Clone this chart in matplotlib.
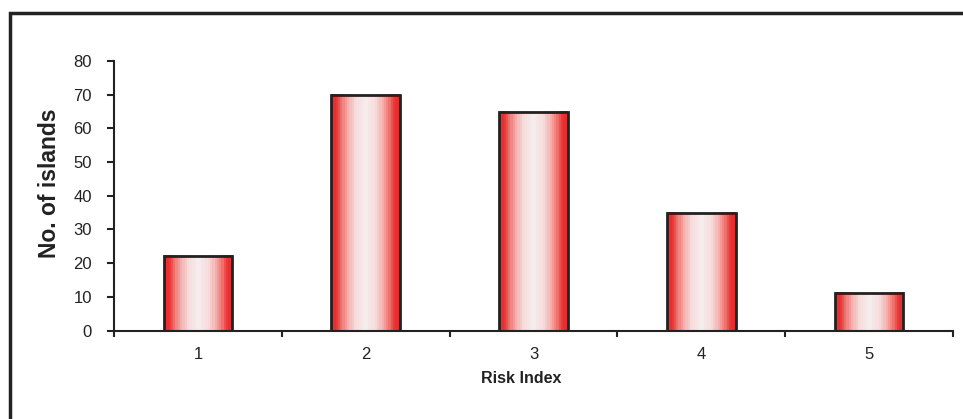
import numpy as np
import matplotlib
matplotlib.use("Agg")
import matplotlib.pyplot as plt
from matplotlib.colors import LinearSegmentedColormap
from matplotlib.patches import Rectangle

categories = ["1", "2", "3", "4", "5"]
values = [22, 70, 65, 35, 11]
yticks = [0, 10, 20, 30, 40, 50, 60, 70, 80]

plt.rcParams['font.family'] = ['Liberation Sans', 'DejaVu Sans']

fig = plt.figure(figsize=(9.63, 4.19), dpi=100)
ax = fig.add_axes([114/963, 1-330.5/419, (953-114)/963, (330.5-61)/419])

x = np.arange(len(categories))
width = 0.41

cmap = LinearSegmentedColormap.from_list(
    "redwhite",
    [(0.0, "#e8262a"), (0.15, "#ec3a3a"), (0.3, "#f07a76"), (0.5, "#f4b4b2"),
     (0.7, "#f6dcdb"), (1.0, "#f6eeee")])
n = 30
prof = 1 - np.abs(np.linspace(-1, 1, n))
grad = np.vstack([prof, prof])

bars = ax.bar(x, values, width=width, fill=False, edgecolor="#222222", linewidth=2, zorder=3)
for b in bars:
    x0, y0 = b.get_x(), b.get_y()
    w, h = b.get_width(), b.get_height()
    ax.imshow(grad, cmap=cmap, extent=(x0, x0 + w, y0, y0 + h), aspect="auto",
              interpolation="nearest", zorder=2, vmin=0, vmax=1)

ax.set_xlim(-0.5, len(categories) - 0.5)
ax.set_ylim(0, 80)
ax.set_yticks(yticks)
ax.set_xticks(x)
ax.set_xticklabels(categories)
ax.set_xticks(np.arange(len(categories) + 1) - 0.5, minor=True)

for s in ["top", "right"]:
    ax.spines[s].set_visible(False)
for s in ["left", "bottom"]:
    ax.spines[s].set_color("#222222")
    ax.spines[s].set_linewidth(1.5)

ax.tick_params(axis="x", which="major", length=0, pad=12, labelsize=12, colors="#222222")
ax.tick_params(axis="x", which="minor", length=4, width=1.5, color="#222222", direction="out")
ax.tick_params(axis="y", length=5, width=1.5, pad=11, labelsize=12, colors="#222222", direction="out")

ax.set_xlabel("Risk Index", fontsize=11.5, fontweight="bold", color="#222222")
ax.xaxis.set_label_coords(0.485, -0.15)
ax.set_ylabel("No. of islands", fontsize=16.5, fontweight="bold", color="#222222")
ax.yaxis.set_label_coords(-0.063, 0.545)

frame = Rectangle((10/963, -0.1), 1.2, 1 - 13/419 + 0.1, transform=fig.transFigure,
                  fill=False, edgecolor="#222222", linewidth=2.5, clip_on=False)
fig.patches.append(frame)

fig.savefig("out.png", dpi=100, facecolor="white")
